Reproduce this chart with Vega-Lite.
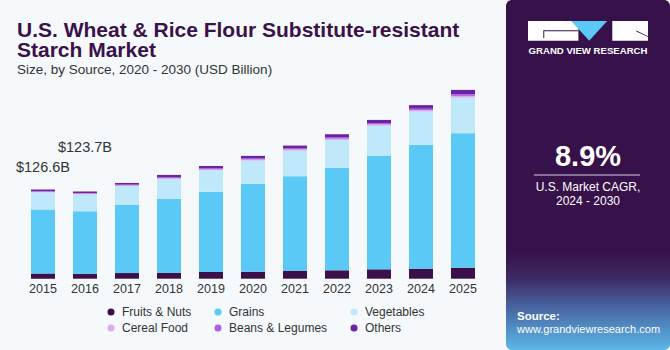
{
  "$schema": "https://vega.github.io/schema/vega-lite/v6.json",
  "background": "#f5f9fc",
  "padding": {"left": 15, "top": 0, "right": 0, "bottom": 0},
  "config": {"font": "Liberation Sans", "view": {"stroke": null}},
  "datasets": {
    "bars": [
      {"year": "2015", "source": "Fruits & Nuts", "value": 7.5},
      {"year": "2015", "source": "Grains", "value": 90.8},
      {"year": "2015", "source": "Vegetables", "value": 24.1},
      {"year": "2015", "source": "Cereal Food", "value": 0.9},
      {"year": "2015", "source": "Beans & Legumes", "value": 0.9},
      {"year": "2015", "source": "Others", "value": 2.4},
      {"year": "2016", "source": "Fruits & Nuts", "value": 7.1},
      {"year": "2016", "source": "Grains", "value": 88.6},
      {"year": "2016", "source": "Vegetables", "value": 24.0},
      {"year": "2016", "source": "Cereal Food", "value": 0.9},
      {"year": "2016", "source": "Beans & Legumes", "value": 0.9},
      {"year": "2016", "source": "Others", "value": 2.2},
      {"year": "2017", "source": "Fruits & Nuts", "value": 8.0},
      {"year": "2017", "source": "Grains", "value": 96.5},
      {"year": "2017", "source": "Vegetables", "value": 27.0},
      {"year": "2017", "source": "Cereal Food", "value": 0.9},
      {"year": "2017", "source": "Beans & Legumes", "value": 1.0},
      {"year": "2017", "source": "Others", "value": 2.4},
      {"year": "2018", "source": "Fruits & Nuts", "value": 8.5},
      {"year": "2018", "source": "Grains", "value": 104.6},
      {"year": "2018", "source": "Vegetables", "value": 28.4},
      {"year": "2018", "source": "Cereal Food", "value": 1.2},
      {"year": "2018", "source": "Beans & Legumes", "value": 1.3},
      {"year": "2018", "source": "Others", "value": 3.2},
      {"year": "2019", "source": "Fruits & Nuts", "value": 9.5},
      {"year": "2019", "source": "Grains", "value": 114.0},
      {"year": "2019", "source": "Vegetables", "value": 30.3},
      {"year": "2019", "source": "Cereal Food", "value": 1.3},
      {"year": "2019", "source": "Beans & Legumes", "value": 1.4},
      {"year": "2019", "source": "Others", "value": 3.4},
      {"year": "2020", "source": "Fruits & Nuts", "value": 9.9},
      {"year": "2020", "source": "Grains", "value": 124.5},
      {"year": "2020", "source": "Vegetables", "value": 33.1},
      {"year": "2020", "source": "Cereal Food", "value": 1.5},
      {"year": "2020", "source": "Beans & Legumes", "value": 1.5},
      {"year": "2020", "source": "Others", "value": 3.7},
      {"year": "2021", "source": "Fruits & Nuts", "value": 11.4},
      {"year": "2021", "source": "Grains", "value": 134.0},
      {"year": "2021", "source": "Vegetables", "value": 36.3},
      {"year": "2021", "source": "Cereal Food", "value": 1.6},
      {"year": "2021", "source": "Beans & Legumes", "value": 1.6},
      {"year": "2021", "source": "Others", "value": 3.9},
      {"year": "2022", "source": "Fruits & Nuts", "value": 11.9},
      {"year": "2022", "source": "Grains", "value": 145.2},
      {"year": "2022", "source": "Vegetables", "value": 39.7},
      {"year": "2022", "source": "Cereal Food", "value": 1.8},
      {"year": "2022", "source": "Beans & Legumes", "value": 1.8},
      {"year": "2022", "source": "Others", "value": 4.5},
      {"year": "2023", "source": "Fruits & Nuts", "value": 13.3},
      {"year": "2023", "source": "Grains", "value": 160.8},
      {"year": "2023", "source": "Vegetables", "value": 43.0},
      {"year": "2023", "source": "Cereal Food", "value": 1.8},
      {"year": "2023", "source": "Beans & Legumes", "value": 1.8},
      {"year": "2023", "source": "Others", "value": 4.5},
      {"year": "2024", "source": "Fruits & Nuts", "value": 14.2},
      {"year": "2024", "source": "Grains", "value": 175.6},
      {"year": "2024", "source": "Vegetables", "value": 47.3},
      {"year": "2024", "source": "Cereal Food", "value": 2.0},
      {"year": "2024", "source": "Beans & Legumes", "value": 2.0},
      {"year": "2024", "source": "Others", "value": 5.1},
      {"year": "2025", "source": "Fruits & Nuts", "value": 15.6},
      {"year": "2025", "source": "Grains", "value": 190.8},
      {"year": "2025", "source": "Vegetables", "value": 50.5},
      {"year": "2025", "source": "Cereal Food", "value": 2.4},
      {"year": "2025", "source": "Beans & Legumes", "value": 2.4},
      {"year": "2025", "source": "Others", "value": 6.1}
    ],
    "sources": [
      {"source": "Fruits & Nuts", "rank": 1},
      {"source": "Grains", "rank": 2},
      {"source": "Vegetables", "rank": 3},
      {"source": "Cereal Food", "rank": 4},
      {"source": "Beans & Legumes", "rank": 5},
      {"source": "Others", "rank": 6}
    ],
    "totals": [
      {"year": "2015", "total": 126.6, "label": "$126.6B"},
      {"year": "2016", "total": 123.7, "label": "$123.7B"}
    ]
  },
  "spacing": 22,
  "resolve": {"scale": {"color": "independent"}},
  "hconcat": [
    {
      "width": 462,
      "height": 278.7,
      "title": {
        "text": ["U.S. Wheat & Rice Flour Substitute-resistant", "Starch Market"],
        "subtitle": "Size, by Source, 2020 - 2030 (USD Billion)",
        "anchor": "start",
        "frame": "group",
        "dx": -5,
        "font": "Liberation Sans",
        "fontSize": 21,
        "lineHeight": 20,
        "fontWeight": "bold",
        "color": "#3a1148",
        "subtitleFont": "Liberation Sans",
        "subtitleFontSize": 13.5,
        "subtitleColor": "#333333",
        "subtitlePadding": 2.3,
        "offset": -76.8
      },
      "layer": [
        {
          "data": {"name": "bars"},
          "transform": [
            {"lookup": "source", "from": {"data": {"name": "sources"}, "key": "source", "fields": ["rank"]}}
          ],
          "mark": {"type": "bar"},
          "encoding": {
            "x": {
              "field": "year", "type": "ordinal",
              "scale": {"paddingInner": 0.4286, "paddingOuter": 0.2143},
              "axis": {"title": null, "domain": false, "ticks": false, "labelAngle": 0, "labelFontSize": 12.5, "labelColor": "#333333", "labelPadding": 4}
            },
            "y": {"field": "value", "type": "quantitative", "stack": "zero", "scale": {"domain": [0, 395.3], "nice": false}, "axis": null},
            "color": {
              "field": "source", "type": "nominal",
              "scale": {
                "domain": ["Fruits & Nuts", "Grains", "Vegetables", "Cereal Food", "Beans & Legumes", "Others"],
                "range": ["#3a0f4a", "#5bc9f6", "#bfe9fa", "#d9abf0", "#b05fe0", "#6c23a3"]
              },
              "legend": {
                "orient": "none", "legendX": 83, "legendY": 306,
                "title": null, "columns": 3, "direction": "horizontal",
                "symbolType": "circle", "symbolSize": 50, "symbolStrokeWidth": 0,
                "labelFontSize": 12, "labelColor": "#333333", "labelOffset": 5,
                "columnPadding": 20, "rowPadding": 4
              }
            },
            "order": {"field": "rank", "type": "quantitative"}
          }
        },
        {
          "data": {"name": "totals"},
          "transform": [{"filter": "datum.year == '2015'"}],
          "mark": {"type": "text", "dy": -21, "fontSize": 14.5, "color": "#333333", "baseline": "middle"},
          "encoding": {
            "x": {"field": "year", "type": "ordinal"},
            "y": {"field": "total", "type": "quantitative"},
            "text": {"field": "label"}
          }
        },
        {
          "data": {"name": "totals"},
          "transform": [{"filter": "datum.year == '2016'"}],
          "mark": {"type": "text", "dy": -43.5, "fontSize": 14.5, "color": "#333333", "baseline": "middle"},
          "encoding": {
            "x": {"field": "year", "type": "ordinal"},
            "y": {"field": "total", "type": "quantitative"},
            "text": {"field": "label"}
          }
        }
      ]
    },
    {
      "width": 164,
      "height": 350,
      "view": {
        "stroke": null,
        "cornerRadius": 6,
        "fill": {
          "gradient": "linear", "x1": 0, "y1": 0, "x2": 0, "y2": 1,
          "stops": [
            {"offset": 0, "color": "#37114a"},
            {"offset": 0.72, "color": "#37114a"},
            {"offset": 0.8, "color": "#3f2d66"},
            {"offset": 0.88, "color": "#4866a2"},
            {"offset": 1, "color": "#5cb8e8"}
          ]
        }
      },
      "layer": [
        {
          "data": {"values": [{"slot": "logo"}]},
          "mark": {"type": "point", "shape": "M-1,-0.233L-0.16,-0.233L-0.16,0.095L-1,0.095Z M0.405,-0.233L1,-0.233L1,0.095L0.405,0.095Z", "size": 14400, "filled": true, "color": "#ffffff", "opacity": 1, "strokeWidth": 0},
          "encoding": {"y": {"field": "slot", "type": "ordinal", "scale": {"type": "point", "padding": 0.5, "domain": ["s0", "s1", "logo", "brand", "s4", "s5", "s6", "s7", "s8", "s9", "s10", "cagr", "rule", "label1", "label2", "s15", "s16", "s17", "s18", "s19", "s20", "s21", "source", "url", "s24"]}, "axis": null}}
        },
        {
          "data": {"values": [{"slot": "logo"}]},
          "mark": {"type": "point", "shape": "M-0.28,-0.233L0.32,-0.233L0.02,0.095Z", "size": 14400, "filled": true, "color": "#5bc8f5", "opacity": 1, "strokeWidth": 0},
          "encoding": {"y": {"field": "slot", "type": "ordinal"}}
        },
        {
          "data": {"values": [{"slot": "logo"}]},
          "mark": {"type": "point", "shape": "M-0.745,-0.078L-0.16,-0.078L-0.16,-0.062L-0.729,-0.062L-0.729,0.05L-0.745,0.05Z M0.805,-0.075L1,0.02L1,0.035L0.805,-0.06Z", "size": 14400, "filled": true, "color": "#37114a", "opacity": 1, "strokeWidth": 0},
          "encoding": {"y": {"field": "slot", "type": "ordinal"}}
        },
        {
          "data": {"values": [{"slot": "brand", "text": "GRAND VIEW RESEARCH"}]},
          "mark": {"type": "text", "fontSize": 9.6, "fontWeight": "bold", "color": "#ffffff", "baseline": "alphabetic", "dy": 5},
          "encoding": {"y": {"field": "slot", "type": "ordinal"}, "text": {"field": "text"}}
        },
        {
          "data": {"values": [{"slot": "cagr", "text": "8.9%"}]},
          "mark": {"type": "text", "fontSize": 29, "fontWeight": "bold", "color": "#ffffff", "baseline": "alphabetic", "dy": 4.7},
          "encoding": {"y": {"field": "slot", "type": "ordinal"}, "text": {"field": "text"}}
        },
        {
          "data": {"values": [{"slot": "rule"}]},
          "mark": {"type": "rule", "color": "#d8d0e0", "strokeWidth": 1},
          "encoding": {
            "y": {"field": "slot", "type": "ordinal"},
            "x": {"datum": 0.17, "type": "quantitative", "scale": {"domain": [0, 1], "nice": false, "zero": false}, "axis": null},
            "x2": {"datum": 0.817}
          }
        },
        {
          "data": {"values": [{"slot": "label1", "text": "U.S. Market CAGR,"}, {"slot": "label2", "text": "2024 - 2030"}]},
          "mark": {"type": "text", "fontSize": 12, "color": "#ffffff", "baseline": "alphabetic", "dy": 1.5},
          "encoding": {"y": {"field": "slot", "type": "ordinal"}, "text": {"field": "text"}}
        },
        {
          "data": {"values": [{"slot": "source", "text": "Source:"}]},
          "mark": {"type": "text", "fontSize": 11.5, "fontWeight": "bold", "color": "#ffffff", "baseline": "alphabetic", "align": "left", "dy": 5},
          "encoding": {"y": {"field": "slot", "type": "ordinal"}, "x": {"datum": 0.067, "type": "quantitative"}, "text": {"field": "text"}}
        },
        {
          "data": {"values": [{"slot": "url", "text": "www.grandviewresearch.com"}]},
          "mark": {"type": "text", "fontSize": 11, "color": "#ffffff", "baseline": "alphabetic", "align": "left", "dy": 4},
          "encoding": {"y": {"field": "slot", "type": "ordinal"}, "x": {"datum": 0.067, "type": "quantitative"}, "text": {"field": "text"}}
        }
      ]
    }
  ]
}
